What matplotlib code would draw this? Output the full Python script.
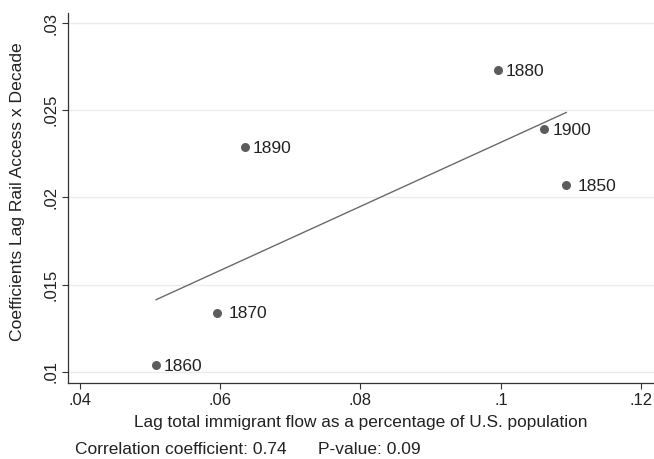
import numpy as np
import matplotlib
matplotlib.use("Agg")
import matplotlib.pyplot as plt

plt.rcParams["font.family"] = ["Liberation Sans", "DejaVu Sans"]

# decade coefficients vs lagged immigrant flow
decades = ["1850", "1860", "1870", "1880", "1890", "1900"]
flow = [0.1093, 0.0509, 0.0596, 0.0996, 0.0635, 0.1062]
coef = [0.0207, 0.0104, 0.0134, 0.0273, 0.0229, 0.0239]
xticks = [0.04, 0.06, 0.08, 0.10, 0.12]
xticklabels = [".04", ".06", ".08", ".1", ".12"]
yticks = [0.010, 0.015, 0.020, 0.025, 0.030]
yticklabels = [".01", ".015", ".02", ".025", ".03"]
corr_txt = "Correlation coefficient: 0.74"
pval_txt = "P-value: 0.09"

x = np.array(flow)
y = np.array(coef)

fig = plt.figure(figsize=(6.54, 4.59), dpi=100)
ax = fig.add_axes([0.1045, 0.165, 0.8955, 0.8073])

for yt in yticks:
    ax.axhline(yt, color="#ebebeb", linewidth=1.0, zorder=0)

# linear fit over the data range
b, a = np.polyfit(x, y, 1)
xs = np.array([x.min(), x.max()])
ax.plot(xs, a + b * xs, color="#6a6a6a", linewidth=1.0, zorder=2)

ax.scatter(x, y, s=42, color="#5c5c5c", linewidth=0, zorder=3)
for d, xi, yi in zip(decades, x, y):
    off = 11 if d in ("1850", "1870") else 8
    ax.annotate(d, (xi, yi), textcoords="offset points", xytext=(off * 0.72, -1),
                ha="left", va="center", fontsize=12.5, color="#222222")

ax.set_xlim(0.0384, 0.1218)
ax.set_ylim(0.00935, 0.03059)
ax.set_xticks(xticks)
ax.set_xticklabels(xticklabels)
ax.set_yticks(yticks)
ax.set_yticklabels(yticklabels, rotation=90, va="center")
ax.tick_params(labelsize=12, colors="#222222", length=4.5, width=0.8, direction="out", pad=2.5)
ax.tick_params(axis="both", color="#333333")

ax.spines["top"].set_visible(False)
ax.spines["right"].set_visible(False)
for s in ("left", "bottom"):
    ax.spines[s].set_color("#333333")
    ax.spines[s].set_linewidth(0.9)

ax.set_xlabel("Lag total immigrant flow as a percentage of U.S. population",
              fontsize=12.4, color="#222222", labelpad=5)
ax.set_ylabel("Coefficients Lag Rail Access x Decade", fontsize=12.6, color="#222222")
ax.yaxis.set_label_coords(-0.074, 0.5175)

fig.text(75 / 654, 1 - 449 / 459, corr_txt, fontsize=12.5, color="#222222", ha="left", va="center")
fig.text(318 / 654, 1 - 449 / 459, pval_txt, fontsize=12.5, color="#222222", ha="left", va="center")

fig.savefig("out.png", dpi=100, facecolor="white")
